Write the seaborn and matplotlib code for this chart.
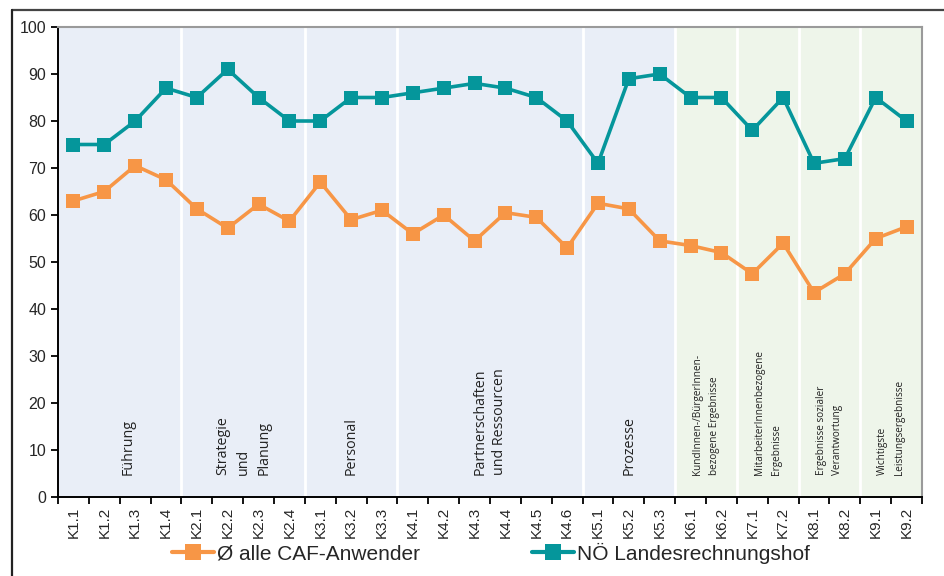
import numpy as np
import pandas as pd
import matplotlib
matplotlib.use("Agg")
import matplotlib.pyplot as plt
from matplotlib.lines import Line2D
import seaborn as sns

# categories (criteria) and group sizes
categories = ["K1.1", "K1.2", "K1.3", "K1.4",
              "K2.1", "K2.2", "K2.3", "K2.4",
              "K3.1", "K3.2", "K3.3",
              "K4.1", "K4.2", "K4.3", "K4.4", "K4.5", "K4.6",
              "K5.1", "K5.2", "K5.3",
              "K6.1", "K6.2", "K7.1", "K7.2", "K8.1", "K8.2", "K9.1", "K9.2"]
group_sizes = [4, 4, 3, 6, 3, 2, 2, 2, 2]
group_labels = ["Führung", "Strategie\nund\nPlanung", "Personal",
                "Partnerschaften\nund Ressourcen", "Prozesse",
                "KundInnen-/BürgerInnen-\nbezogene Ergebnisse",
                "MitarbeiterInnenbezogene\nErgebnisse",
                "Ergebnisse sozialer\nVerantwortung",
                "Wichtigste\nLeistungsergebnisse"]
n_enabler_groups = 5  # first five groups are "Befähiger", rest are results

# series values
caf_avg = [63, 65, 70.5, 67.5, 61.3, 57.2, 62.3, 58.7, 67, 59, 61,
           56, 60, 54.5, 60.5, 59.5, 53, 62.5, 61.3, 54.5,
           53.5, 52, 47.5, 54, 43.5, 47.5, 55, 57.5]
lrh = [75, 75, 80, 87, 85, 91, 85, 80, 80, 85, 85,
       86, 87, 88, 87, 85, 80, 71, 89, 90,
       85, 85, 78, 85, 71, 72, 85, 80]

series_names = ["Ø alle CAF-Anwender", "NÖ Landesrechnungshof"]

ORANGE = "#F79646"
TEAL = "#05969B"
BLUE_BG = "#E9EEF7"
GREEN_BG = "#EEF5EA"

sns.set_style("ticks")
plt.rcParams["font.family"] = ["Liberation Sans", "DejaVu Sans"]

fig = plt.figure(figsize=(9.44, 5.76), dpi=100)
ax = fig.add_axes([58 / 944, 79 / 576, 864 / 944, 470 / 576])

pos = np.arange(len(categories))
df = pd.DataFrame({"pos": np.concatenate([pos, pos]),
                   "value": caf_avg + lrh,
                   "series": [series_names[0]] * len(pos) + [series_names[1]] * len(pos)})

# background regions
bounds = np.cumsum([0] + group_sizes) - 0.5
ax.axvspan(bounds[0], bounds[n_enabler_groups], color=BLUE_BG, zorder=0, lw=0)
ax.axvspan(bounds[n_enabler_groups], bounds[-1], color=GREEN_BG, zorder=0, lw=0)
for b in bounds[1:-1]:
    ax.axvline(b, color="white", lw=2, zorder=1)

sns.lineplot(data=df, x="pos", y="value", hue="series", style="series",
             palette=[ORANGE, TEAL], markers=["s", "s"], dashes=False,
             lw=2.6, markersize=10, markeredgewidth=0, ax=ax, zorder=3,
             legend=False)

# group labels
for i, lab in enumerate(group_labels):
    cx = (bounds[i] + bounds[i + 1]) / 2
    if i == 0:
        cx += 0.27
    if i < n_enabler_groups:
        ax.text(cx, 4.7, lab, rotation=90, ha="center", va="bottom",
                multialignment="left", fontsize=10.3, family="Open Sans",
                color="#222222", linespacing=1.5 if i == 1 else 1.35, zorder=4)
    else:
        ax.text(cx, 4.7, lab, rotation=90, ha="center", va="bottom",
                multialignment="left", fontsize=7.2, family="Open Sans",
                color="#222222", linespacing=1.7, zorder=4)

ax.set_xlim(-0.5, len(categories) - 0.5)
ax.set_ylim(0, 100)
ax.set_yticks(range(0, 101, 10))
ax.set_xticks(np.arange(len(categories) + 1) - 0.5)
ax.set_xticklabels([])
ax.set_xticks(pos, minor=True)
ax.set_xticklabels(categories, minor=True, rotation=90, fontsize=11)
ax.tick_params(axis="x", which="major", length=5, width=1.3, direction="out", color="black")
ax.tick_params(axis="x", which="minor", length=0, pad=7)
ax.tick_params(axis="y", length=5, width=1.3, direction="out", labelsize=11.5, color="black")
ax.set_xlabel("")
ax.set_ylabel("")
for s in ["left", "bottom"]:
    ax.spines[s].set_color("black")
    ax.spines[s].set_linewidth(1.4)
for s in ["top", "right"]:
    ax.spines[s].set_visible(True)
    ax.spines[s].set_color("#9a9a9a")
    ax.spines[s].set_linewidth(1.5)

# outer frame (top and left edges)
fig.add_artist(Line2D([12 / 944, 1.0], [1 - 10 / 576, 1 - 10 / 576],
                      transform=fig.transFigure, color="#444444", lw=1.6))
fig.add_artist(Line2D([12 / 944, 12 / 944], [0, 1 - 10 / 576],
                      transform=fig.transFigure, color="#222222", lw=1.6))

handles = [Line2D([], [], color=ORANGE, lw=3, marker="s", markersize=11, markeredgewidth=0),
           Line2D([], [], color=TEAL, lw=3, marker="s", markersize=11, markeredgewidth=0)]
fig.legend(handles, series_names, loc="center", bbox_to_anchor=(0.52, 1 - 553 / 576),
           ncol=2, frameon=False, fontsize=15, handlelength=2.0, handletextpad=0.15,
           columnspacing=5.4)

fig.savefig("out.png", dpi=100)
